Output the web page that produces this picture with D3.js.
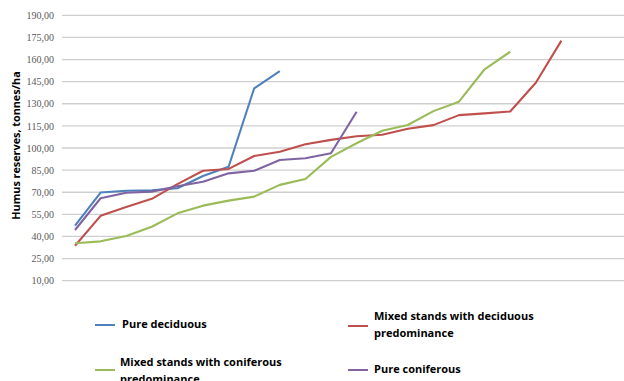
<!DOCTYPE html>
<html>
<head>
<meta charset="utf-8">
<script src="https://cdn.jsdelivr.net/npm/d3@7"></script>
<style>
  body { margin: 0; background: #fff; }
</style>
</head>
<body>
<div id="viz"></div>
<script>
const width = 624
const height = 381

// values, one per stand (sorted)
const pureDeciduous = [47.3, 69.8, 71.0, 71.3, 72.7, 81.0, 87.3, 140.5, 152.2]
const mixedDeciduous = [33.7, 54.0, 60.0, 65.5, 75.5, 84.6, 85.8, 94.6, 97.5, 102.5, 105.5, 108.0, 109.0, 113.0, 115.5, 122.3, 123.5, 124.8, 144.3, 172.8]
const mixedConiferous = [35.4, 36.7, 40.3, 46.6, 55.7, 60.9, 64.3, 67.0, 75.0, 79.0, 94.0, 103.2, 111.7, 115.6, 125.0, 131.4, 153.4, 165.3]
const pureConiferous = [44.4, 65.9, 69.7, 70.4, 74.0, 77.1, 82.8, 84.6, 91.9, 93.0, 96.4, 124.6]

const yTicks = [10, 25, 40, 55, 70, 85, 100, 115, 130, 145, 160, 175, 190]
const yTitle = "Humus reserves, tonnes/ha"

const series = [
  {name: ["Pure deciduous"], values: pureDeciduous, color: "#4f81bd"},
  {name: ["Mixed stands with deciduous", "predominance"], values: mixedDeciduous, color: "#c0504d"},
  {name: ["Mixed stands with coniferous", "predominance"], values: mixedConiferous, color: "#9bbb59"},
  {name: ["Pure coniferous"], values: pureConiferous, color: "#8064a2"}
]

const formatTick = d => d3.format(".2f")(d).replace(".", ",")

const svg = d3.select("#viz").append("svg").attr("width", width).attr("height", height)

const yScale = d3.scaleLinear().domain([10, 190]).range([280.7, 15.3])
const xScale = d3.scaleLinear().domain([0, 19]).range([75, 561.4])

// gridlines
const gridGroup = svg.append("g").attr("id", "gridGroup")
gridGroup.selectAll("line").data(yTicks).enter().append("line")
  .attr("x1", 62).attr("x2", width)
  .attr("y1", d => yScale(d)).attr("y2", d => yScale(d))
  .attr("stroke", "#cfcfcf").attr("stroke-width", 1.3)

// y axis labels
const yAxis = d3.axisLeft(yScale).tickValues(yTicks).tickFormat(formatTick).tickSize(0).tickPadding(0)
const yAxisGroup = svg.append("g").attr("transform", `translate(54, 0)`).call(yAxis)
yAxisGroup.select(".domain").remove()
yAxisGroup.selectAll("text")
  .attr("font-family", "'Liberation Serif', 'Times New Roman', serif")
  .attr("font-size", 10).attr("fill", "#595959")

svg.append("text")
  .attr("transform", `translate(20, 145.5) rotate(-90)`)
  .attr("text-anchor", "middle")
  .attr("font-family", "'Open Sans', sans-serif").attr("font-weight", "bold")
  .attr("font-size", 10.8).attr("fill", "#000")
  .text(yTitle)

// lines
const line = d3.line().x((d, i) => xScale(i)).y(d => yScale(d))
svg.append("g").attr("id", "linesGroup").selectAll("path").data(series).enter().append("path")
  .attr("d", d => line(d.values))
  .attr("fill", "none").attr("stroke", d => d.color).attr("stroke-width", 2.1)
  .attr("stroke-linejoin", "round")

// legend
const legendLoc = [
  {x: 95, y: 325, tx: 122, ty: 328},
  {x: 348, y: 326, tx: 374, ty: 320},
  {x: 95, y: 370, tx: 120, ty: 366},
  {x: 348, y: 370, tx: 374, ty: 373}
]
const legendGroup = svg.append("g").attr("id", "legendGroup")
series.forEach((s, i) => {
  const loc = legendLoc[i]
  legendGroup.append("line").attr("x1", loc.x).attr("x2", loc.x + 20)
    .attr("y1", loc.y).attr("y2", loc.y)
    .attr("stroke", s.color).attr("stroke-width", 2)
  const t = legendGroup.append("text")
    .attr("x", loc.tx).attr("y", loc.ty)
    .attr("font-family", "'Open Sans', sans-serif").attr("font-weight", "bold")
    .attr("font-size", 11).attr("fill", "#000")
  s.name.forEach((n, j) => {
    t.append("tspan").attr("x", loc.tx).attr("dy", j == 0 ? 0 : 16.5).text(n)
  })
})
</script>
</body>
</html>
